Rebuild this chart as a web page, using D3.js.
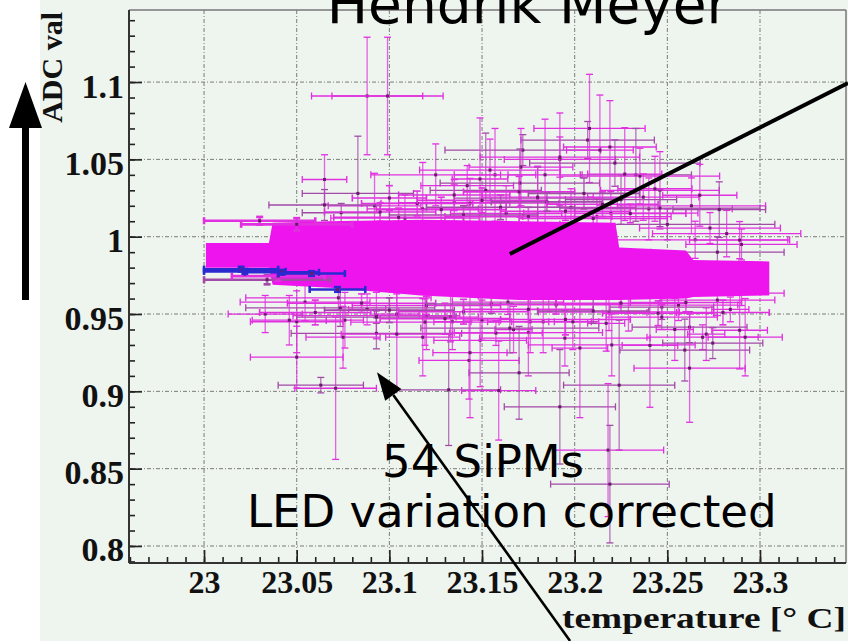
<!DOCTYPE html>
<html>
<head>
<meta charset="utf-8">
<script src="https://cdn.jsdelivr.net/npm/d3@7"></script>
<style>
  html, body { margin: 0; padding: 0; background: #fff; }
  svg { display: block; }
  .axis text { font-family: "Liberation Serif", "Times New Roman", serif; font-weight: bold; fill: #111; }
  .axis-x text { font-size: 32px; }
  .axis-y text { font-size: 34px; }
  .axis-title { font-family: "Liberation Serif", "Times New Roman", serif; font-weight: bold; font-size: 30px; fill: #111; }
  .note { font-family: "DejaVu Sans", Verdana, sans-serif; font-size: 45px; fill: #000; }
</style>
</head>
<body>
<div id="chart"></div>
<script>
// axis ranges and ticks
const tempRange = [22.9595, 23.3464];
const adcRange = [0.789, 1.1466];
const tempTicks = [23, 23.05, 23.1, 23.15, 23.2, 23.25, 23.3];
const adcTicks = [0.8, 0.85, 0.9, 0.95, 1, 1.05, 1.1];

// envelope of the dense magenta band (where bars overlap completely)
const bandTemp = [23.001, 23.035, 23.037, 23.068, 23.117, 23.170, 23.222, 23.224, 23.260, 23.264, 23.305];
const bandHigh = [0.996, 0.996, 1.009, 1.010, 1.011, 1.010, 1.009, 0.993, 0.991, 0.985, 0.984];
const bandLow  = [0.980, 0.980, 0.969, 0.967, 0.962, 0.959, 0.959, 0.959, 0.960, 0.961, 0.962];

// [temperature, adc, temp error, adc error, shade] shade: 0 magenta, 1 purple, 2 blue
const edgeBars = [
  [23.030, 1.0103, 0.030, 0.0025, 0],
  [23.050, 1.0080, 0.030, 0.0040, 0],
  [23.034, 0.9722, 0.034, 0.0030, 1],
  [23.040, 0.9745, 0.025, 0.0030, 0],
  [23.020, 0.9790, 0.020, 0.0015, 2],
  [23.022, 0.9776, 0.022, 0.0015, 2],
  [23.042, 0.9770, 0.020, 0.0015, 2],
  [23.058, 0.9762, 0.018, 0.0015, 2],
  [23.072, 0.9659, 0.015, 0.0015, 2]
];

const upperPts = [
  [23.088, 1.091, 0.030, 0.038, 0],
  [23.099, 1.091, 0.030, 0.038, 0],
  [23.083, 1.028, 0.030, 0.037, 1],
  [23.065, 1.037, 0.012, 0.016, 0],
  [23.092, 1.020, 0.025, 0.021, 0],
  [23.074, 1.0155, 0.021, 0.006, 1],
  [23.142, 1.033, 0.025, 0.013, 0],
  [23.152, 1.030, 0.030, 0.037, 1],
  [23.157, 1.040, 0.022, 0.030, 0],
  [23.172, 1.056, 0.042, 0.010, 1],
  [23.207, 1.0625, 0.036, 0.012, 1],
  [23.208, 1.070, 0.030, 0.035, 0],
  [23.219, 1.058, 0.025, 0.030, 0],
  [23.192, 1.050, 0.030, 0.030, 0],
  [23.171, 1.045, 0.028, 0.025, 0],
  [23.233, 1.040, 0.030, 0.030, 1],
  [23.246, 1.030, 0.032, 0.025, 0],
  [23.263, 1.020, 0.040, 0.018, 0],
  [23.250, 1.008, 0.058, 0.010, 1],
  [23.265, 0.998, 0.050, 0.012, 0],
  [23.240, 1.018, 0.045, 0.020, 0],
  [23.180, 1.025, 0.045, 0.020, 1],
  [23.125, 1.040, 0.035, 0.020, 0],
  [23.118, 1.018, 0.030, 0.030, 0],
  [23.135, 1.022, 0.030, 0.012, 0],
  [23.163, 1.015, 0.030, 0.018, 0],
  [23.198, 1.019, 0.035, 0.012, 0],
  [23.212, 1.013, 0.040, 0.012, 0],
  [23.225, 1.024, 0.030, 0.016, 1],
  [23.282, 1.002, 0.040, 0.015, 0],
  [23.290, 0.995, 0.030, 0.010, 0],
  [23.192, 1.0515, 0.043, 0.013, 0],
  [23.2217, 1.0476, 0.046, 0.015, 1],
  [23.1543, 1.0431, 0.038, 0.020, 0],
  [23.2352, 1.0392, 0.043, 0.018, 0],
  [23.1704, 1.0347, 0.043, 0.022, 1],
  [23.180, 1.0256, 0.030, 0.020, 0],
  [23.237, 1.0256, 0.030, 0.015, 0],
  [23.1435, 1.0217, 0.048, 0.016, 0],
  [23.246, 1.0185, 0.054, 0.012, 1],
  [23.2195, 1.0153, 0.047, 0.014, 0],
  [23.1084, 1.0120, 0.040, 0.015, 0],
  [23.065, 1.0205, 0.030, 0.010, 1],
  [23.1489, 1.0373, 0.015, 0.0395, 0],
  [23.184, 1.040, 0.020, 0.036, 0],
  [23.2136, 1.056, 0.018, 0.0356, 0],
  [23.227, 1.0405, 0.020, 0.030, 0],
  [23.2433, 1.031, 0.020, 0.021, 0],
  [23.2675, 1.0268, 0.020, 0.020, 0],
  [23.278, 1.0175, 0.025, 0.018, 1],
  [23.273, 1.0056, 0.038, 0.010, 0],
  [23.289, 0.9978, 0.027, 0.012, 0],
  [23.277, 0.990, 0.036, 0.010, 1],
  [23.277, 0.959, 0.031, 0.010, 0],
  [23.290, 0.9635, 0.023, 0.008, 0]
];

// tightly packed bars just above and below the band
const denseUpper = [
  [23.105, 1.0125, 0.035, 0.006, 0],
  [23.140, 1.0140, 0.040, 0.006, 1],
  [23.175, 1.0130, 0.045, 0.006, 0],
  [23.210, 1.0118, 0.040, 0.005, 0],
  [23.095, 1.0160, 0.030, 0.006, 0],
  [23.128, 1.0175, 0.035, 0.008, 0],
  [23.160, 1.0190, 0.040, 0.008, 1],
  [23.195, 1.0165, 0.035, 0.006, 0],
  [23.230, 1.0150, 0.030, 0.006, 0],
  [23.115, 1.0215, 0.030, 0.008, 0],
  [23.150, 1.0235, 0.035, 0.008, 0],
  [23.185, 1.0225, 0.030, 0.006, 1],
  [23.215, 1.0210, 0.030, 0.008, 0],
  [23.135, 1.0270, 0.030, 0.010, 0],
  [23.170, 1.0290, 0.030, 0.010, 0],
  [23.205, 1.0280, 0.030, 0.010, 1],
  [23.100, 1.0250, 0.020, 0.008, 0]
];

const denseLower = [
  [23.085, 0.9570, 0.040, 0.006, 0],
  [23.120, 0.9555, 0.040, 0.006, 0],
  [23.155, 0.9565, 0.035, 0.006, 1],
  [23.190, 0.9560, 0.035, 0.006, 0],
  [23.225, 0.9570, 0.035, 0.006, 0],
  [23.260, 0.9575, 0.030, 0.006, 0],
  [23.100, 0.9525, 0.035, 0.008, 1],
  [23.140, 0.9515, 0.035, 0.008, 0],
  [23.175, 0.9530, 0.035, 0.008, 0],
  [23.210, 0.9520, 0.030, 0.008, 1],
  [23.245, 0.9505, 0.030, 0.008, 0],
  [23.280, 0.9510, 0.025, 0.008, 0],
  [23.060, 0.9510, 0.030, 0.008, 0],
  [23.130, 0.9470, 0.035, 0.010, 0],
  [23.195, 0.9465, 0.035, 0.010, 0]
];

const lowerPts = [
  [23.0725, 0.9605, 0.050, 0.008, 0],
  [23.0735, 0.954, 0.051, 0.012, 1],
  [23.093, 0.949, 0.045, 0.015, 0],
  [23.093, 0.9375, 0.046, 0.010, 1],
  [23.076, 0.946, 0.010, 0.018, 0],
  [23.088, 0.953, 0.010, 0.010, 0],
  [23.104, 0.950, 0.012, 0.013, 0],
  [23.120, 0.949, 0.015, 0.022, 0],
  [23.133, 0.948, 0.015, 0.016, 0],
  [23.093, 0.948, 0.043, 0.004, 1],
  [23.050, 0.945, 0.025, 0.020, 0],
  [23.071, 0.902, 0.022, 0.046, 0],
  [23.063, 0.904, 0.023, 0.005, 1],
  [23.075, 0.935, 0.020, 0.020, 0],
  [23.104, 0.937, 0.030, 0.036, 0],
  [23.118, 0.935, 0.020, 0.025, 0],
  [23.132, 0.901, 0.028, 0.036, 1],
  [23.149, 0.933, 0.025, 0.030, 0],
  [23.159, 0.9005, 0.020, 0.032, 0],
  [23.175, 0.938, 0.040, 0.028, 0],
  [23.183, 0.945, 0.030, 0.020, 0],
  [23.192, 0.890, 0.030, 0.037, 1],
  [23.224, 0.904, 0.030, 0.042, 1],
  [23.218, 0.862, 0.030, 0.043, 0],
  [23.219, 0.840, 0.032, 0.038, 1],
  [23.164, 0.9577, 0.030, 0.008, 0],
  [23.247, 0.9545, 0.028, 0.008, 1],
  [23.247, 0.948, 0.030, 0.008, 0],
  [23.262, 0.9415, 0.031, 0.010, 1],
  [23.1575, 0.9377, 0.025, 0.008, 0],
  [23.269, 0.935, 0.030, 0.008, 0],
  [23.2745, 0.9312, 0.027, 0.010, 1],
  [23.134, 0.945, 0.010, 0.018, 0],
  [23.150, 0.946, 0.010, 0.013, 0],
  [23.167, 0.940, 0.010, 0.015, 0],
  [23.176, 0.945, 0.010, 0.020, 0],
  [23.199, 0.945, 0.010, 0.018, 0],
  [23.217, 0.944, 0.010, 0.018, 0],
  [23.229, 0.951, 0.010, 0.012, 0],
  [23.254, 0.940, 0.010, 0.020, 0],
  [23.271, 0.937, 0.010, 0.017, 0],
  [23.284, 0.953, 0.010, 0.008, 0],
  [23.262, 0.915, 0.030, 0.035, 0],
  [23.292, 0.935, 0.020, 0.025, 0],
  [23.0545, 0.9577, 0.035, 0.012, 0],
  [23.1192, 0.9448, 0.040, 0.015, 0],
  [23.165, 0.9409, 0.048, 0.016, 1],
  [23.1947, 0.9344, 0.046, 0.018, 0],
  [23.220, 0.930, 0.045, 0.020, 0],
  [23.2594, 0.9267, 0.035, 0.020, 1],
  [23.050, 0.9221, 0.025, 0.020, 0],
  [23.143, 0.920, 0.027, 0.025, 0],
  [23.170, 0.912, 0.027, 0.030, 1],
  [23.2185, 0.9513, 0.038, 0.012, 0],
  [23.186, 0.9616, 0.038, 0.010, 0],
  [23.256, 0.9558, 0.032, 0.010, 0],
  [23.1435, 0.925, 0.020, 0.042, 0],
  [23.2028, 0.928, 0.015, 0.045, 0],
  [23.2406, 0.9297, 0.015, 0.040, 0],
  [23.289, 0.9395, 0.015, 0.025, 0],
  [23.033, 0.950, 0.020, 0.012, 0],
  [23.046, 0.946, 0.020, 0.016, 0]
];

// annotation arrows, in data units
const bandPointer = [[23.165, 0.9888], [23.3475, 1.0994]];
const lowPointer = [[23.1975, 0.7386], [23.0933, 0.9124]];

const shadeColors = ["#e030e0", "#a24aa8", "#2a2ad0"];

const width = 848;
const height = 641;
const frame = { left: 129, right: 846, top: 10, bottom: 563 };

const x = d3.scaleLinear().domain(tempRange).range([frame.left, frame.right]);
const y = d3.scaleLinear().domain(adcRange).range([frame.bottom, frame.top]);

const svg = d3.select("#chart")
  .append("svg")
  .attr("width", width)
  .attr("height", height);

svg.append("rect")
  .attr("x", 40).attr("y", 0)
  .attr("width", width - 40).attr("height", height)
  .attr("fill", "#eef4ee");

// grid
const grid = svg.append("g").attr("stroke", "#555").attr("stroke-width", 1)
  .attr("stroke-dasharray", "4,2,1,2").attr("opacity", 0.75);
grid.selectAll("line.gx").data(tempTicks).join("line")
  .attr("x1", d => x(d)).attr("x2", d => x(d))
  .attr("y1", frame.top).attr("y2", frame.bottom);
grid.selectAll("line.gy").data(adcTicks).join("line")
  .attr("x1", frame.left).attr("x2", frame.right)
  .attr("y1", d => y(d)).attr("y2", d => y(d));

function drawErrorBars(rows, widthPx) {
  const g = svg.append("g");
  const item = g.selectAll("g").data(rows).join("g")
    .attr("stroke", d => shadeColors[d[4]])
    .attr("stroke-width", widthPx);
  item.append("line")
    .attr("x1", d => x(d[0] - d[2])).attr("x2", d => x(d[0] + d[2]))
    .attr("y1", d => y(d[1])).attr("y2", d => y(d[1]));
  // vertical bars look a little paler in the original
  item.append("line")
    .attr("stroke-opacity", 0.75)
    .attr("x1", d => x(d[0])).attr("x2", d => x(d[0]))
    .attr("y1", d => y(d[1] - d[3])).attr("y2", d => y(d[1] + d[3]));
  // end caps
  [-1, 1].forEach(s => {
    item.append("line")
      .attr("x1", d => x(d[0] + s * d[2])).attr("x2", d => x(d[0] + s * d[2]))
      .attr("y1", d => y(d[1]) - 3.5).attr("y2", d => y(d[1]) + 3.5);
    item.append("line")
      .attr("x1", d => x(d[0]) - 3.5).attr("x2", d => x(d[0]) + 3.5)
      .attr("y1", d => y(d[1] + s * d[3])).attr("y2", d => y(d[1] + s * d[3]));
  });
  item.append("rect")
    .attr("x", d => x(d[0]) - 1.5).attr("y", d => y(d[1]) - 1.5)
    .attr("width", 3).attr("height", 3)
    .attr("fill", "#6a1a6a").attr("stroke", "none");
}

drawErrorBars(lowerPts, 1.3);
drawErrorBars(upperPts, 1.3);
drawErrorBars(denseLower, 1.6);
drawErrorBars(denseUpper, 1.6);

const area = d3.area()
  .x((d, i) => x(bandTemp[i]))
  .y0((d, i) => y(bandLow[i]))
  .y1((d, i) => y(bandHigh[i]));
svg.append("path").datum(bandTemp).attr("d", area).attr("fill", "#ee14ee");

drawErrorBars(edgeBars, 2.6);

// axes with inward ticks
const xMinor = d3.range(22.96, 23.346, 0.01).map(v => +v.toFixed(2));
const yMinor = d3.range(0.79, 1.147, 0.01).map(v => +v.toFixed(2));

svg.append("g").attr("class", "axis axis-x")
  .attr("transform", `translate(0,${frame.bottom})`)
  .call(d3.axisBottom(x).tickValues(tempTicks).tickSize(-13).tickPadding(7)
    .tickFormat(d => d3.format("")(+d.toFixed(2))));
svg.append("g").attr("class", "axis")
  .attr("transform", `translate(0,${frame.bottom})`)
  .call(d3.axisBottom(x).tickValues(xMinor).tickSize(-6).tickFormat(""));

const yAxis = svg.append("g").attr("class", "axis axis-y")
  .attr("transform", `translate(${frame.left},0)`)
  .call(d3.axisLeft(y).tickValues(adcTicks).tickSize(-13).tickPadding(5)
    .tickFormat(d => d3.format("")(+d.toFixed(2))));
yAxis.selectAll("text").attr("dy", "15px");
svg.append("g").attr("class", "axis")
  .attr("transform", `translate(${frame.left},0)`)
  .call(d3.axisLeft(y).tickValues(yMinor).tickSize(-6).tickFormat(""));

svg.selectAll(".axis .domain").remove();
svg.selectAll(".axis line").attr("stroke", "#222").attr("stroke-width", 1.6);

// frame
svg.append("line").attr("x1", frame.left).attr("x2", frame.right)
  .attr("y1", frame.top).attr("y2", frame.top).attr("stroke", "#777").attr("stroke-width", 1.5);
svg.append("line").attr("x1", frame.right).attr("x2", frame.right)
  .attr("y1", frame.top).attr("y2", frame.bottom).attr("stroke", "#777").attr("stroke-width", 1.5);
svg.append("line").attr("x1", frame.left).attr("x2", frame.left)
  .attr("y1", frame.top).attr("y2", frame.bottom).attr("stroke", "#333").attr("stroke-width", 2);
svg.append("line").attr("x1", frame.left).attr("x2", frame.right)
  .attr("y1", frame.bottom).attr("y2", frame.bottom).attr("stroke", "#333").attr("stroke-width", 2);

// axis titles
svg.append("text").attr("class", "axis-title")
  .attr("transform", "translate(62,12) rotate(-90)")
  .attr("text-anchor", "end")
  .text("ADC val");
svg.append("text").attr("class", "axis-title")
  .attr("x", frame.right).attr("y", 628)
  .attr("text-anchor", "end")
  .attr("textLength", 284)
  .attr("lengthAdjust", "spacingAndGlyphs")
  .text("temperature [° C]");

// slide annotations
svg.append("text").attr("class", "note")
  .attr("x", 528).attr("y", 23).attr("text-anchor", "middle")
  .style("font-size", "55px")
  .text("Hendrik Meyer");
svg.append("text").attr("class", "note").attr("x", 382).attr("y", 477).text("54 SiPMs");
svg.append("text").attr("class", "note").attr("x", 247).attr("y", 527).text("LED variation corrected");

svg.append("line")
  .attr("x1", x(bandPointer[0][0])).attr("y1", y(bandPointer[0][1]))
  .attr("x2", x(bandPointer[1][0])).attr("y2", y(bandPointer[1][1]))
  .attr("stroke", "#000").attr("stroke-width", 4);

const p0 = [x(lowPointer[0][0]), y(lowPointer[0][1])];
const p1 = [x(lowPointer[1][0]), y(lowPointer[1][1])];
const ang = Math.atan2(p1[1] - p0[1], p1[0] - p0[0]);
const headLen = 28, headHalf = 10;
const back = [p1[0] - headLen * Math.cos(ang), p1[1] - headLen * Math.sin(ang)];
svg.append("line")
  .attr("x1", p0[0]).attr("y1", p0[1]).attr("x2", back[0]).attr("y2", back[1])
  .attr("stroke", "#000").attr("stroke-width", 2.6);
svg.append("path")
  .attr("d", d3.line()([
    p1,
    [back[0] + headHalf * Math.sin(ang), back[1] - headHalf * Math.cos(ang)],
    [back[0] - headHalf * Math.sin(ang), back[1] + headHalf * Math.cos(ang)]
  ]) + "Z")
  .attr("fill", "#000");

// big arrow on the left margin
svg.append("rect").attr("x", 22).attr("y", 126).attr("width", 7).attr("height", 174).attr("fill", "#000");
svg.append("path").attr("d", "M25.5,82L42,128L9,128Z").attr("fill", "#000");
</script>
</body>
</html>
